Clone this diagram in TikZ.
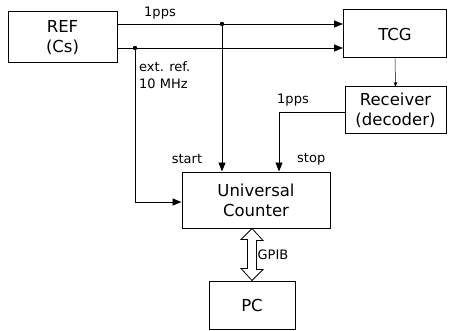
\documentclass[tikz,border=0pt]{standalone}
\usepackage{fontspec}
\setmainfont{DejaVu Sans}
\usetikzlibrary{arrows.meta}
\begin{document}
\begin{tikzpicture}[x=1pt,y=-1pt,
	block/.style={draw, line width=1pt, inner sep=0pt, align=center, font=\fontsize{16.5}{20}\selectfont},
	lbl/.style={inner sep=0pt, font=\fontsize{13}{15}\selectfont},
	sig/.style={line width=0.8pt, -{Triangle[length=9pt,width=7pt]}}]
	\useasboundingbox ( 0, 0 ) rectangle ( 449, 331 );

	% блоки
	\node [block, minimum width=109, minimum height=51] (REF) at ( 62.5, 37.5 ) {REF\\(Cs)};
	\node [block, minimum width=103, minimum height=48] (TCG) at ( 395, 34 ) {TCG};
	\node [block, minimum width=101, minimum height=47] (RX) at ( 395.5, 110.5 ) {Receiver\\(decoder)};
	\node [block, minimum width=148, minimum height=56] (UC) at ( 256, 200 ) {Universal\\Counter};
	\node [block, minimum width=86, minimum height=48] (PC) at ( 252, 305 ) {PC};

	% точки ветвления
	\coordinate (pps) at ( 222, 24 );
	\coordinate (ext) at ( 135, 48 );
	\coordinate (extc) at ( 135, 202 );
	\coordinate (rxc) at ( 279, 112 );
	\fill (pps) circle (2.2);
	\fill (ext) circle (2.2);

	% 1pps
	\draw [line width=0.8pt] (REF.east |- pps) -- (pps);
	\draw [sig] (pps) -- (TCG.west |- pps);
	\draw [sig] (pps) -- (pps |- UC.north);
	\node [lbl] (lpps) at ( 160, 13 ) {1pps};
	\node [lbl] (lstart) at ( 187, 159 ) {start};

	% 10 MHz
	\draw [line width=0.8pt] (REF.east |- ext) -- (ext);
	\draw [sig] (ext) -- (TCG.west |- ext);
	\draw [sig] (ext) -- (extc) -- (extc -| UC.west);
	\node [lbl, anchor=west] (lext) at ( 139, 67 ) {ext. ref.};
	\node [lbl, anchor=west] (lmhz) at ( 139, 84 ) {10 MHz};

	% TCG - приемник
	\draw [line width=0.5pt, -{Triangle[length=4pt,width=3.5pt]}] (TCG.south) -- (RX.north);

	% приемник - stop
	\draw [sig] (RX.west |- rxc) -- (rxc) -- (rxc |- UC.north);
	\node [lbl] (lpps2) at ( 293, 100 ) {1pps};
	\node [lbl, anchor=west] (lstop) at ( 297, 159 ) {stop};

	% GPIB
	\draw [line width=0.8pt] (UC.south -| PC.north) -- ++( 11, 12 ) -- ++( -6.5, 0 ) -- ++( 0, 29 )
		-- ++( 6.5, 0 ) -- (PC.north) -- ++( -11, -12 ) -- ++( 6.5, 0 ) -- ++( 0, -29 ) -- ++( -6.5, 0 ) -- cycle;
	\node [lbl] (lgpib) at ( 273, 255 ) {GPIB};
\end{tikzpicture}
\end{document}
